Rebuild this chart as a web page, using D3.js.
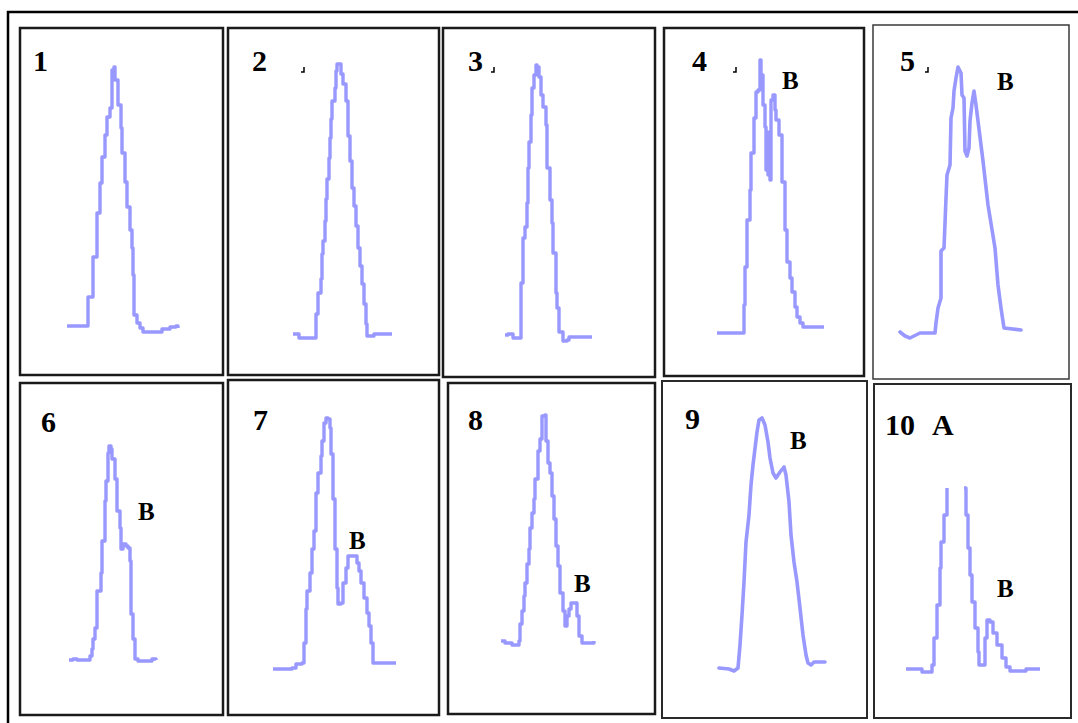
<!DOCTYPE html>
<html>
<head>
<meta charset="utf-8">
<script src="https://cdn.jsdelivr.net/npm/d3@7"></script>
<style>
  html, body { margin: 0; padding: 0; background: #fff; }
  svg { display: block; }
  .num { font-family: "Liberation Serif", "Times New Roman", serif; font-weight: bold; fill: #000; }
</style>
</head>
<body>
<svg id="chart"></svg>
<script>
// Traces: [channel, intensity] (null = gap in the trace)
const trace1 = [[47,49],[68,78],[73,118],[77,162],[80,192],[82,218],[85,240],[87,258],[90,267],[92,305],[94,308],
  [95,295],[98,270],[101,247],[102,222],[105,193],[107,168],[110,145],[112,127],[113,100],[114,60],[117,52],
  [120,47],[123,43],[137,43],[142,46],[150,48],[156,49],[158,47]];
const trace2 = [[65,41],[71,37],[86,37],[88,61],[90,82],[93,96],[94,121],[95,134],[97,154],[98,176],[99,196],
  [101,217],[102,237],[103,256],[104,274],[107,287],[108,304],[109,311],[111,311],[113,301],[115,291],[118,274],
  [120,239],[122,214],[124,187],[126,169],[128,149],[130,127],[132,109],[134,91],[136,71],[138,51],[139,39],
  [144,39],[146,41],[164,41]];
const trace3 = [[62,42],[65,43],[70,39],[76,39],[78,94],[80,139],[82,150],[84,174],[85,209],[86,235],[88,262],
  [89,289],[91,302],[93,312],[94,310],[96,300],[98,282],[100,270],[103,252],[104,209],[107,177],[109,154],
  [110,124],[113,84],[114,69],[116,45],[120,36],[124,37],[126,40],[149,40]];
const trace4 = [[53,43],[80,71],[81,109],[83,156],[86,186],[87,223],[90,258],[92,284],[94,286],[96,316],[97,301],
  [99,271],[101,249],[102,206],[103,244],[104,201],[105,236],[106,196],[107,276],[109,281],[111,266],[112,256],
  [115,241],[118,194],[121,146],[123,114],[126,98],[128,84],[131,69],[133,59],[136,53],[139,49],[160,49]];
const trace5 = [[27,47],[32,43],[37,41],[43,44],[47,46],[62,46],[63,56],[65,71],[68,81],[68,128],[71,131],[73,181],
  [74,204],[77,214],[78,261],[80,271],[81,288],[83,301],[85,312],[88,306],[89,284],[91,281],[92,228],[94,223],
  [96,231],[97,258],[99,276],[101,288],[103,274],[105,258],[110,218],[115,174],[122,131],[125,94],[128,71],
  [131,51],[148,49]];
const trace6 = [[49,55],[53,56],[57,55],[69,55],[70,59],[72,66],[73,76],[75,87],[77,124],[81,142],[82,174],[85,214],
  [86,234],[88,262],[89,269],[91,266],[92,256],[95,236],[97,204],[100,187],[101,166],[103,171],[106,169],
  [108,167],[110,154],[111,101],[113,76],[115,56],[118,54],[130,54],[132,56],[136,55]];
const trace7 = [[45,46],[64,47],[68,51],[74,52],[76,72],[78,106],[79,124],[82,142],[84,166],[86,184],[88,222],
  [90,242],[93,259],[94,274],[96,292],[98,297],[100,296],[102,287],[103,261],[105,216],[107,166],[109,127],
  [110,111],[113,112],[115,132],[118,147],[120,159],[126,159],[129,152],[131,144],[133,132],[136,117],
  [139,102],[141,89],[143,72],[145,52],[168,52]];
const trace8 = [[53,73],[57,71],[64,69],[70,69],[71,73],[72,90],[74,103],[76,118],[77,131],[79,150],[81,165],
  [82,186],[84,201],[86,215],[87,235],[90,263],[92,275],[94,298],[97,299],[98,273],[100,251],[102,241],
  [104,218],[106,195],[108,168],[110,148],[112,121],[115,103],[117,88],[119,98],[121,105],[123,111],[127,111],
  [129,98],[131,78],[134,71],[141,71],[146,73]];
const trace9 = [[57,50],[67,49],[72,47],[76,50],[78,73],[80,103],[82,136],[84,176],[87,203],[89,233],[91,253],
  [95,286],[97,298],[100,300],[103,293],[106,276],[108,260],[111,245],[114,240],[118,246],[122,251],[124,243],
  [127,216],[129,183],[132,156],[135,136],[138,110],[141,83],[144,63],[146,55],[149,53],[152,56],[163,56]];
const trace10 = [[32,49],[48,46],[56,46],[58,53],[60,80],[63,113],[66,150],[67,176],[70,203],[73,230],null,
  [90,230],[92,203],[94,170],[96,143],[98,116],[101,90],[104,66],[105,53],[108,53],[111,80],[113,98],[116,96],
  [119,85],[123,73],[128,60],[132,51],[136,47],[150,47],[152,49],[166,49]];

const panelNames = ['1', '2', '3', '4', '5', '6', '7', '8', '9', '10'];
const traces = [trace1, trace2, trace3, trace4, trace5, trace6, trace7, trace8, trace9, trace10];

// Layout of the figure (pixels)
const WIDTH = 1078, HEIGHT = 723;
const PANELS = [
  { x: 20,  y: 28,  w: 203, h: 347, stroke: '#1a1a1a', sw: 2.5, smooth: false, num: [33, 71],  b: null,       mark: null },
  { x: 228, y: 28,  w: 211, h: 347, stroke: '#1a1a1a', sw: 2.5, smooth: false, num: [252, 71], b: null,       mark: [304, 72] },
  { x: 443, y: 28,  w: 212, h: 349, stroke: '#1a1a1a', sw: 2.5, smooth: false, num: [468, 71], b: null,       mark: [494, 72] },
  { x: 664, y: 28,  w: 200, h: 348, stroke: '#1a1a1a', sw: 2.5, smooth: false, num: [692, 71], b: [782, 89],  mark: [736, 72] },
  { x: 873, y: 25,  w: 196, h: 354, stroke: '#3a3a3a', sw: 1.5, smooth: true,  num: [900, 71], b: [997, 90],  mark: [928, 72] },
  { x: 20,  y: 383, w: 203, h: 332, stroke: '#1a1a1a', sw: 2.5, smooth: false, num: [41, 432], b: [138, 520], mark: null },
  { x: 228, y: 380, w: 211, h: 335, stroke: '#1a1a1a', sw: 2.5, smooth: false, num: [253, 430], b: [349, 549], mark: null },
  { x: 448, y: 383, w: 207, h: 331, stroke: '#1a1a1a', sw: 2.5, smooth: false, num: [468, 430], b: [574, 592], mark: null },
  { x: 662, y: 381, w: 205, h: 337, stroke: '#2a2a2a', sw: 2,   smooth: true,  num: [685, 429], b: [790, 449], mark: null },
  { x: 874, y: 384, w: 197, h: 334, stroke: '#2a2a2a', sw: 2,   smooth: false, num: [885, 435], b: [997, 597], mark: null }
];
const TRACE_COLOR = '#9898ff';

const svg = d3.select('#chart')
  .attr('width', WIDTH)
  .attr('height', HEIGHT);

svg.append('rect')
  .attr('width', WIDTH).attr('height', HEIGHT)
  .attr('fill', '#fff');

// Outer frame (runs off the right and bottom edges)
svg.append('rect')
  .attr('x', 8).attr('y', 12)
  .attr('width', WIDTH + 20).attr('height', HEIGHT + 20)
  .attr('fill', 'none')
  .attr('stroke', '#000')
  .attr('stroke-width', 2.5);

PANELS.forEach((p, i) => {
  const g = svg.append('g');

  g.append('rect')
    .attr('x', p.x).attr('y', p.y)
    .attr('width', p.w).attr('height', p.h)
    .attr('fill', '#fff')
    .attr('stroke', p.stroke)
    .attr('stroke-width', p.sw);

  const x = d3.scaleLinear().domain([0, p.w]).range([p.x, p.x + p.w]);
  const y = d3.scaleLinear().domain([0, p.h]).range([p.y + p.h, p.y]);

  const line = d3.line()
    .defined(d => d !== null)
    .x(d => x(d[0]))
    .y(d => y(d[1]))
    .curve(p.smooth ? d3.curveLinear : d3.curveStepAfter);

  g.append('path')
    .datum(traces[i])
    .attr('d', line)
    .attr('fill', 'none')
    .attr('stroke', TRACE_COLOR)
    .attr('stroke-width', p.smooth ? 3.6 : 3.4)
    .attr('stroke-linejoin', 'round')
    .attr('stroke-linecap', p.smooth ? 'round' : 'butt');

  // panel number
  g.append('text')
    .attr('class', 'num')
    .attr('x', p.num[0]).attr('y', p.num[1])
    .style('font-size', '30px')
    .text(panelNames[i]);

  if (i === 9) {
    g.append('text')
      .attr('class', 'num')
      .attr('x', 932).attr('y', 435)
      .style('font-size', '30px')
      .text('A');
  }

  if (p.b) {
    g.append('text')
      .attr('class', 'num')
      .attr('x', p.b[0]).attr('y', p.b[1])
      .style('font-size', '25px')
      .text('B');
  }

  // small leftover mark beside some numbers
  if (p.mark) {
    g.append('path')
      .attr('d', `M${p.mark[0]},${p.mark[1] - 5}L${p.mark[0]},${p.mark[1]}L${p.mark[0] - 3},${p.mark[1]}`)
      .attr('fill', 'none')
      .attr('stroke', '#000')
      .attr('stroke-width', 1.5);
  }
});
</script>
</body>
</html>
